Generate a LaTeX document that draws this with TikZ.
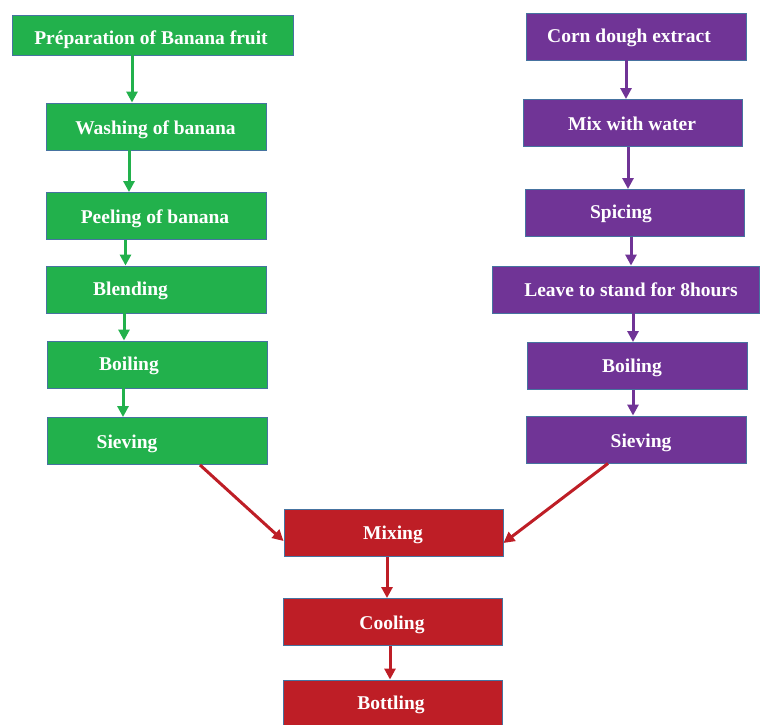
\documentclass[tikz,border=0pt]{standalone}
\usepackage{fontspec}
\setmainfont{Liberation Serif}
\usepackage{tikz}
\usetikzlibrary{arrows.meta}
\usetikzlibrary{positioning}

\definecolor{boxgreen}{RGB}{34,177,76}
\definecolor{boxpurple}{RGB}{112,52,150}
\definecolor{boxred}{RGB}{190,30,38}
\definecolor{boxedge}{RGB}{70,115,160}

\tikzset{
    box/.style = {draw = boxedge, line width = 0.9pt, minimum height = 47, inner sep = 0},
    gbox/.style = {box, fill = boxgreen},
    pbox/.style = {box, fill = boxpurple},
    rbox/.style = {box, fill = boxred},
    txt/.style = {text = white, font = \fontsize{19.5}{22}\selectfont\bfseries, inner sep = 0, yshift = -2.5},
    flow/.style = {line width = 3pt, -{Triangle[length = 11pt, width = 11pt]}},
}

\begin{document}
\begin{tikzpicture}[x = 1pt, y = -1pt]

        % Canvas
        \useasboundingbox (0,0) rectangle (760,724);

        % Banana side
        \node[gbox, minimum width = 281, minimum height = 40] (prep) at (152.5,35) {};
        \node[gbox, minimum width = 220] (wash) at (156,126.5) {};
        \node[gbox, minimum width = 220] (peel) at (156,216) {};
        \node[gbox, minimum width = 220] (blend) at (156,289.5) {};
        \node[gbox, minimum width = 220] (boilg) at (157,364.5) {};
        \node[gbox, minimum width = 220] (sieveg) at (157,441) {};

        \node[txt] (prep-t) at (151,37) {Préparation of Banana fruit};
        \node[txt] (wash-t) at (155.5,127) {Washing of banana};
        \node[txt] (peel-t) at (155,216) {Peeling of banana};
        \node[txt] (blend-t) at (130.5,288) {Blending};
        \node[txt] (boilg-t) at (129,363) {Boiling};
        \node[txt] (sieveg-t) at (127,441) {Sieving};

        % Corn side
        \node[pbox, minimum width = 220] (corn) at (636,36.5) {};
        \node[pbox, minimum width = 219] (mixw) at (632.5,123) {};
        \node[pbox, minimum width = 219] (spice) at (634.5,213) {};
        \node[pbox, minimum width = 267] (leave) at (625.5,289.5) {};
        \node[pbox, minimum width = 220] (boilp) at (637,366) {};
        \node[pbox, minimum width = 220] (sievep) at (636,439.5) {};

        \node[txt] (corn-t) at (629,35) {Corn dough extract};
        \node[txt] (mixw-t) at (632,121) {Mix with water};
        \node[txt] (spice-t) at (621,211) {Spicing};
        \node[txt] (leave-t) at (631,287) {Leave to stand for 8hours};
        \node[txt] (boilp-t) at (632,365) {Boiling};
        \node[txt] (sievep-t) at (641,440) {Sieving};

        % Common steps
        \node[rbox, minimum width = 219] (mixing) at (393.5,533) {};
        \node[rbox, minimum width = 219] (cooling) at (392.5,622) {};
        \node[rbox, minimum width = 219, minimum height = 48] (bottling) at (392.5,704) {};

        \node[txt] (mixing-t) at (393,532) {Mixing};
        \node[txt] (cooling-t) at (392,622) {Cooling};
        \node[txt] (bottling-t) at (391,702) {Bottling};

        % Arrows
        \draw[flow, boxgreen] ([xshift = -20.5]prep.south) -- ([xshift = -24]wash.north);
        \draw[flow, boxgreen] ([xshift = -27]wash.south) -- ([xshift = -27]peel.north);
        \draw[flow, boxgreen] ([xshift = -30.5]peel.south) -- ([xshift = -30.5]blend.north);
        \draw[flow, boxgreen] ([xshift = -32]blend.south) -- ([xshift = -33]boilg.north);
        \draw[flow, boxgreen] ([xshift = -34]boilg.south) -- ([xshift = -34]sieveg.north);

        \draw[flow, boxpurple] ([xshift = -10]corn.south) -- ([xshift = -6.5]mixw.north);
        \draw[flow, boxpurple] ([xshift = -4.5]mixw.south) -- ([xshift = -6.5]spice.north);
        \draw[flow, boxpurple] ([xshift = -3.5]spice.south) -- ([xshift = 5.5]leave.north);
        \draw[flow, boxpurple] ([xshift = 7.5]leave.south) -- ([xshift = -4]boilp.north);
        \draw[flow, boxpurple] ([xshift = -4]boilp.south) -- ([xshift = -3]sievep.north);

        \draw[flow, boxred] ([xshift = 43]sieveg.south) -- ([yshift = -8]mixing.west);
        \draw[flow, boxred] ([xshift = -28]sievep.south) -- ([yshift = -10]mixing.east);
        \draw[flow, boxred] ([xshift = -6.5]mixing.south) -- ([xshift = -5.5]cooling.north);
        \draw[flow, boxred] ([xshift = -2.5]cooling.south) -- ([xshift = -2.5]bottling.north);

    \end{tikzpicture}
\end{document}
